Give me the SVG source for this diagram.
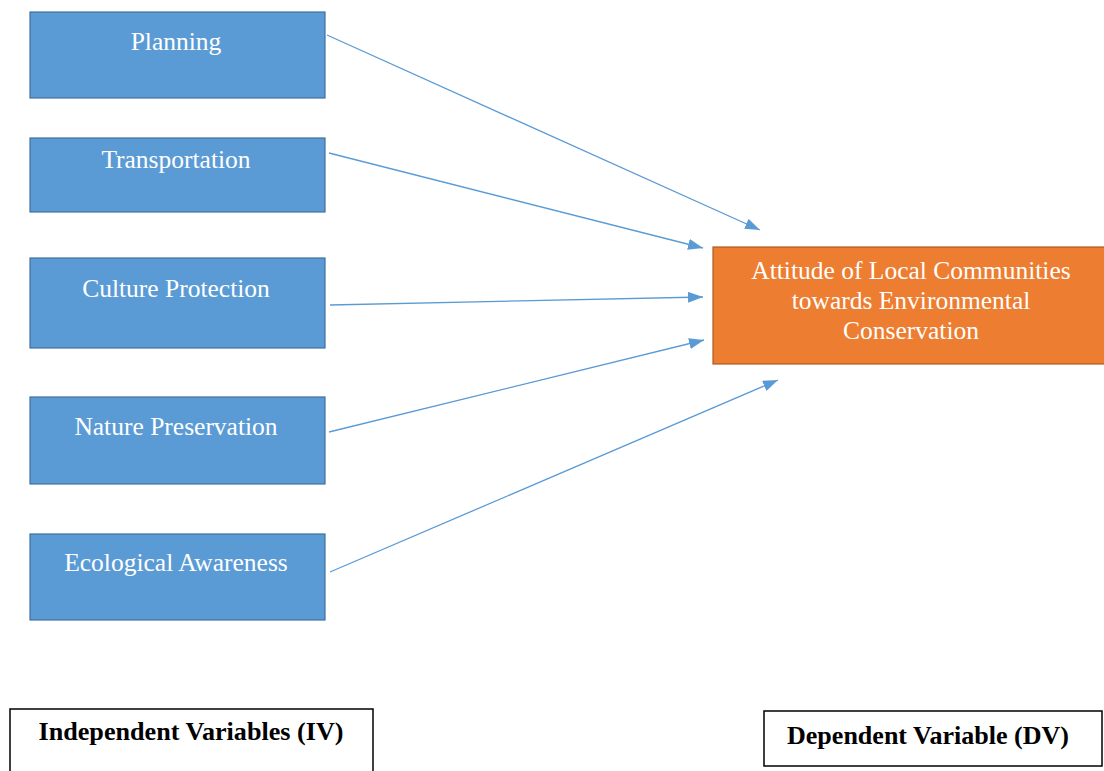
<svg xmlns="http://www.w3.org/2000/svg" width="1104" height="771" viewBox="0 0 1104 771">
<defs>
<style>
.iv{fill:#5B9BD5;stroke:#41719C;stroke-width:1.2}
.dv{fill:#ED7D31;stroke:#AE5A21;stroke-width:1.2}
.t{font-family:"Liberation Serif","Times New Roman",serif;font-size:25.5px;fill:#fff;text-anchor:middle}
.lb{fill:#fff;stroke:#000;stroke-width:1.5}
.bt{font-family:"Liberation Serif","Times New Roman",serif;font-size:26px;font-weight:bold;fill:#000;text-anchor:middle}
.c{stroke:#5B9BD5;stroke-width:1.3;fill:none}
</style>
<marker id="ah2" viewBox="0 0 15 11" refX="15" refY="5.5" markerWidth="15" markerHeight="11" markerUnits="userSpaceOnUse" orient="auto">
<path d="M0,0 L15,5.5 L0,11 Z" fill="#5B9BD5"/>
</marker>
</defs>
<rect width="1104" height="771" fill="#fff"/>
<g id="n-planning"><rect class="iv" x="30" y="12" width="295" height="86"/><text class="t" x="176" y="50">Planning</text></g>
<g id="n-transportation"><rect class="iv" x="30" y="138" width="295" height="74"/><text class="t" x="176" y="168">Transportation</text></g>
<g id="n-culture"><rect class="iv" x="30" y="258" width="295" height="90"/><text class="t" x="176" y="297">Culture Protection</text></g>
<g id="n-nature"><rect class="iv" x="30" y="397" width="295" height="87"/><text class="t" x="176" y="435">Nature Preservation</text></g>
<g id="n-eco"><rect class="iv" x="30" y="534" width="295" height="86"/><text class="t" x="176" y="571">Ecological Awareness</text></g>
<g id="n-attitude"><rect class="dv" x="713" y="247" width="395" height="117"/>
<text class="t" x="911" y="279">Attitude of Local Communities</text>
<text class="t" x="911" y="309">towards Environmental</text>
<text class="t" x="911" y="339">Conservation</text></g>
<g id="n-iv-label"><rect class="lb" x="10" y="709" width="363" height="70"/><text class="bt" x="191" y="740" textLength="305" lengthAdjust="spacingAndGlyphs">Independent Variables (IV)</text></g>
<g id="n-dv-label"><rect class="lb" x="764" y="711" width="338" height="55"/><text class="bt" x="928" y="744" textLength="282" lengthAdjust="spacingAndGlyphs">Dependent Variable (DV)</text></g>
<g id="connectors">
<line class="c" x1="327" y1="35" x2="760" y2="230" marker-end="url(#ah2)"/>
<line class="c" x1="329" y1="153" x2="703" y2="248" marker-end="url(#ah2)"/>
<line class="c" x1="330" y1="305" x2="703" y2="297" marker-end="url(#ah2)"/>
<line class="c" x1="329" y1="432" x2="704" y2="340" marker-end="url(#ah2)"/>
<line class="c" x1="330" y1="572" x2="778" y2="380" marker-end="url(#ah2)"/>
</g>
</svg>
